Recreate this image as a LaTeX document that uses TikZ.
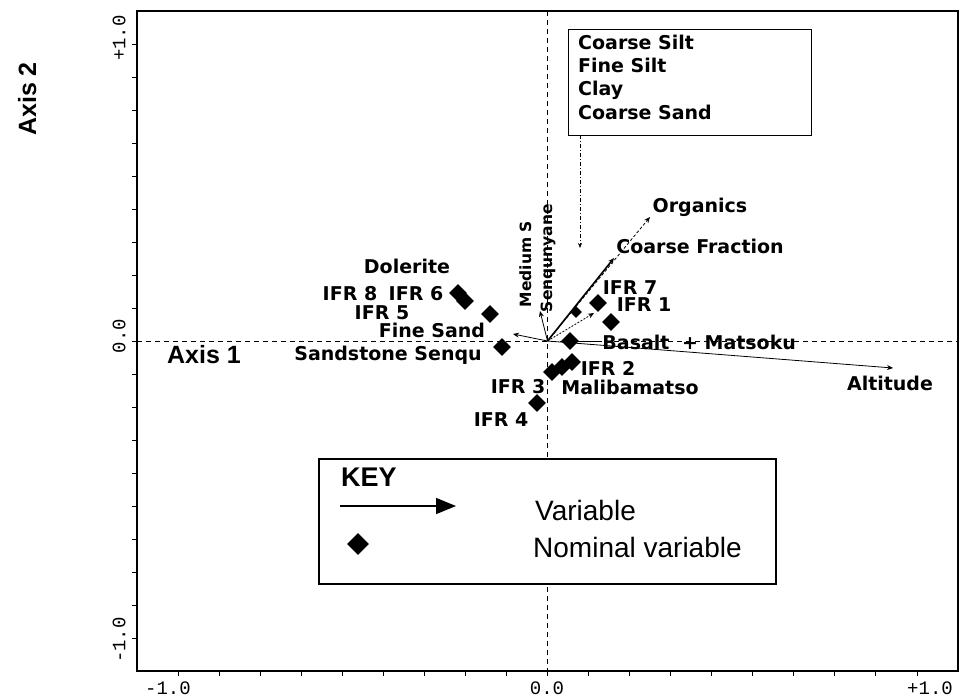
\documentclass[tikz,border=0pt]{standalone}
\usepackage{fontspec}
\setmainfont{Liberation Sans}
\newfontfamily\labfont{DejaVu Sans}
\newfontfamily\monof{Liberation Mono}
\usetikzlibrary{arrows.meta,shapes.geometric}
\begin{document}
\begin{tikzpicture}[x=1pt,y=-1pt,
  lbl/.style={font=\labfont\bfseries\fontsize{19}{22}\selectfont, inner sep=0pt, anchor=base},
  vlbl/.style={font=\labfont\bfseries\fontsize{15.5}{18}\selectfont, inner sep=0pt, anchor=base, rotate=90},
  dia/.style={diamond, fill=black, draw=none, inner sep=0pt, aspect=1, minimum width=18pt, minimum height=18pt},
  smalldia/.style={dia, minimum width=12pt, minimum height=12pt},
  vec/.style={-{Stealth[length=6pt,width=5pt]}, line width=0.8pt},
  axisdash/.style={dash pattern=on 5pt off 4pt, line width=0.8pt},
  ticklab/.style={font=\monof\fontsize{19}{19}\selectfont, inner sep=0pt},
  bigl/.style={font=\bfseries\fontsize{25}{25}\selectfont, inner sep=0pt, anchor=base},
  keytext/.style={font=\fontsize{28}{28}\selectfont, inner sep=0pt, anchor=base west}]
\useasboundingbox[fill=white] (0,0) rectangle (963,697);

% frame and axes
\coordinate (fNW) at (137,11);
\coordinate (fSE) at (958,671);
\coordinate (O) at (547.5,341);
\coordinate (axL) at (137,341);
\coordinate (axR) at (958,341);
\coordinate (axT) at (547.5,11);
\coordinate (axB) at (547.5,671);
\draw[axisdash] (axL) -- (axR);
\draw[axisdash] (axT) -- (axB);
\draw[line width=1.3pt] (fNW) rectangle (fSE);
\foreach \k in {-9,...,9} {
  \draw[line width=0.9pt] ({547.5+\k*41.05},671) -- ++(0,5);
  \draw[line width=0.9pt] (137,{341+\k*33}) -- ++(-5,0);
}
% tick labels
\node[ticklab] (bx1) at (168,688) {-1.0};
\node[ticklab] (bx2) at (547,688) {0.0};
\node[ticklab] (bx3) at (930,688) {+1.0};
\node[ticklab, rotate=90] (ly1) at (119,38) {+1.0};
\node[ticklab, rotate=90] (ly2) at (119,336) {0.0};
\node[ticklab, rotate=90] (ly3) at (119,640) {-1.0};

% axis titles
\node[bigl] (ax1) at (204,363) {Axis 1};
\node[bigl, rotate=90] (ax2) at (36,99) {Axis 2};

% top box
\node[draw, line width=1pt, minimum width=243pt, minimum height=106pt, anchor=north west, inner sep=0pt] (legbox) at (568,29) {};
\node[lbl, anchor=base west] (t1) at (578,49.5) {Coarse Silt};
\node[lbl, anchor=base west] (t2) at (578,72.5) {Fine Silt};
\node[lbl, anchor=base west] (t3) at (578,95.5) {Clay};
\node[lbl, anchor=base west] (t4) at (578,119.5) {Coarse Sand};
\coordinate (boxArrS) at (580,135);
\coordinate (boxArrE) at (580,248);
\draw[-{Stealth[length=5pt,width=4pt]}, line width=0.8pt, dash pattern=on 4pt off 2pt on 1pt off 2pt] (boxArrS) -- (boxArrE);

% vectors
\coordinate (altTip) at (893,368);
\coordinate (cfTip) at (614,258);
\coordinate (orgTip) at (650,217);
\coordinate (ifrTip) at (594,313);
\coordinate (fsTip) at (513,334);
\coordinate (senTip) at (540,311);
\draw[vec] (O) -- (altTip);
\draw[vec, dash pattern=on 3pt off 2pt] (O) -- (orgTip);
\draw[vec, line width=1.6pt] (O) -- (cfTip);
\draw[vec, dash pattern=on 2pt off 1.5pt] (O) -- (ifrTip);
\draw[vec] (O) -- (fsTip);
\draw[vec] (O) -- (senTip);

% diamonds
\node[dia] (d8) at (458,293) {};
\node[dia] (d6) at (465,301) {};
\node[dia] (d5) at (490,314) {};
\node[dia] (dss) at (502,347) {};
\node[dia] (dbas) at (570,341) {};
\node[dia] (d7) at (598,303) {};
\node[dia] (d1) at (611,322) {};
\node[dia] (d2a) at (552,372) {};
\node[dia] (d2b) at (562,367) {};
\node[dia] (d2c) at (572,362) {};
\node[dia] (d4) at (537,403) {};
\node[smalldia] (dms) at (576,312) {};

% labels
\node[lbl] (lDol) at (407,273) {Dolerite};
\node[lbl] (l8) at (350,300) {IFR 8};
\node[lbl] (l6) at (416,300) {IFR 6};
\node[lbl] (l5) at (382,319) {IFR 5};
\node[lbl] (lFS) at (432,337) {Fine Sand};
\node[lbl] (lSS) at (388,360) {Sandstone Senqu};
\node[lbl] (l3) at (518,393) {IFR 3};
\node[lbl] (l4) at (501,426) {IFR 4};
\node[lbl] (l2) at (608,375) {IFR 2};
\node[lbl] (lMal) at (630,394) {Malibamatso};
\node[lbl] (lBas) at (636,349) {Basalt};
\node[lbl] (lMat) at (739,349) {+ Matsoku};
\node[lbl] (lAlt) at (890,390) {Altitude};
\node[lbl] (l7) at (630,294) {IFR 7};
\node[lbl] (l1) at (644,311) {IFR 1};
\node[lbl] (lCF) at (700,253) {Coarse Fraction};
\node[lbl] (lOrg) at (700,212) {Organics};
\node[vlbl] (lMS) at (531,264) {Medium S};
\node[vlbl] (lSen) at (552,258) {Senqunyane};
\draw[line width=0.8pt] (dbas.east) -- (lBas.west |- dbas.east);

% key
\node[draw, fill=white, line width=1.5pt, minimum width=457pt, minimum height=125pt, anchor=north west, inner sep=0pt] (keybox) at (318,458) {};
\node[font=\bfseries\fontsize{27}{27}\selectfont, inner sep=0pt, anchor=base] (keyt) at (369,486) {KEY};
\coordinate (kaS) at (340,506);
\coordinate (kaE) at (456,506);
\draw[-{Triangle[length=20pt,width=16pt]}, line width=1.5pt] (kaS) -- (kaE);
\node[dia, minimum width=22pt, minimum height=22pt] (kd) at (358,544) {};
\node[keytext] (kv) at (535,520) {Variable};
\node[keytext] (kn) at (533,557) {Nominal variable};
\end{tikzpicture}
\end{document}
